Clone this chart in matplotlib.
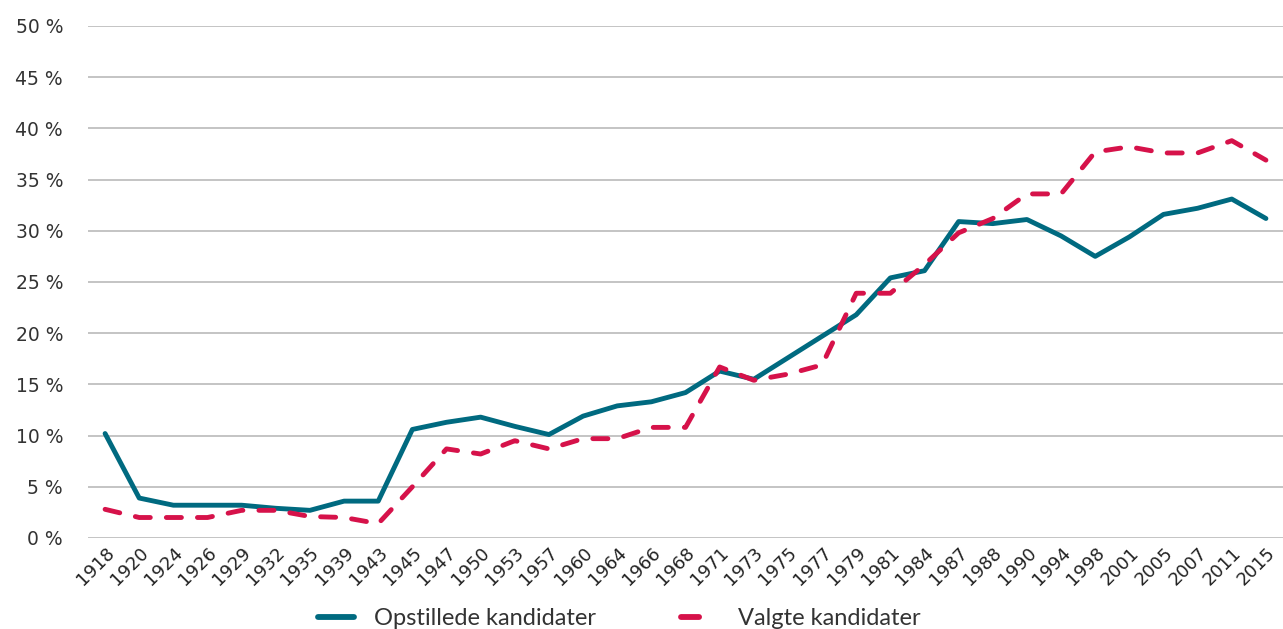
import matplotlib
matplotlib.use("Agg")
import matplotlib.pyplot as plt

years = ["1918", "1920", "1924", "1926", "1929", "1932", "1935", "1939", "1943", "1945",
         "1947", "1950", "1953", "1957", "1960", "1964", "1966", "1968", "1971", "1973",
         "1975", "1977", "1979", "1981", "1984", "1987", "1988", "1990", "1994", "1998",
         "2001", "2005", "2007", "2011", "2015"]
opstillede = [10.2, 3.9, 3.2, 3.2, 3.2, 2.9, 2.7, 3.6, 3.6, 10.6,
              11.3, 11.8, 10.9, 10.1, 11.9, 12.9, 13.3, 14.2, 16.3, 15.5,
              17.6, 19.7, 21.8, 25.4, 26.1, 30.9, 30.7, 31.1, 29.5, 27.5,
              29.4, 31.6, 32.2, 33.1, 31.2]
valgte = [2.8, 2.0, 2.0, 2.0, 2.7, 2.7, 2.1, 2.0, 1.4, 5.0,
          8.7, 8.2, 9.5, 8.7, 9.7, 9.7, 10.8, 10.8, 16.7, 15.4,
          16.0, 16.9, 23.9, 23.9, 26.7, 29.8, 31.2, 33.6, 33.6, 37.7,
          38.2, 37.6, 37.6, 38.8, 36.9]
yticks = [0, 5, 10, 15, 20, 25, 30, 35, 40, 45, 50]

plt.rcParams['font.family'] = ['DejaVu Sans']

fig = plt.figure(figsize=(12.83, 6.29), dpi=100)
ax = fig.add_axes([0.0686, 0.1447, 0.9314, 0.814])

x = list(range(len(years)))
blue = "#006a80"
red = "#d6124a"
ax.plot(x, opstillede, color=blue, lw=3.5, solid_capstyle='round', solid_joinstyle='round',
        label="Opstillede kandidater", zorder=3)
ax.plot(x, valgte, color=red, lw=3.5, linestyle=(0, (3.1, 3.3)), dash_capstyle='round',
        label="Valgte kandidater", zorder=4)

ax.set_xlim(-0.5, len(years) - 0.5)
ax.set_ylim(0, 50)
ax.set_yticks(yticks)
ax.set_yticklabels([f"{v} %" for v in yticks], fontsize=13.5, color="#333333")
ax.set_xticks(x)
ax.set_xticklabels(years, rotation=45, ha='right', rotation_mode='anchor', fontsize=13, color="#222222")
ax.tick_params(axis='both', length=0)
ax.tick_params(axis='y', pad=18)
ax.tick_params(axis='x', pad=4)
ax.grid(axis='y', color="#b4b4b4", lw=1.1)
ax.set_axisbelow(True)
for s in ax.spines.values():
    s.set_visible(False)

leg = fig.legend(loc='center', bbox_to_anchor=(0.4825, 0.017), ncol=2, frameon=False,
                 prop={'family': 'Lato', 'size': 17}, handlelength=1.55,
                 columnspacing=3.6, handletextpad=0.85)
for t in leg.get_texts():
    t.set_color("#333333")
for h in leg.get_lines():
    h.set_linewidth(4.2)

fig.savefig("out.png", dpi=100)
